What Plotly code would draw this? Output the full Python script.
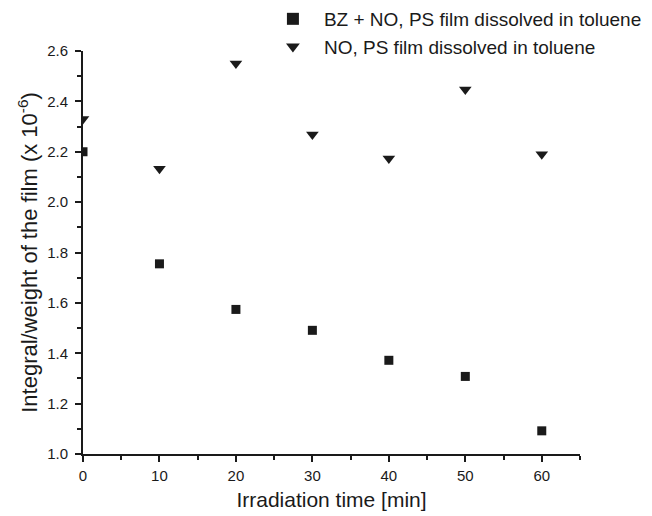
import plotly.graph_objects as go

# Irradiation time in minutes
time_min = [0, 10, 20, 30, 40, 50, 60]

# Integral / weight of the film (x 10^-6)
bz_no = [2.20, 1.755, 1.574, 1.491, 1.372, 1.308, 1.092]
no_only = [2.33, 2.133, 2.55, 2.268, 2.173, 2.447, 2.19]

series_names = [
    "BZ + NO, PS film dissolved in toluene",
    "NO, PS film dissolved in toluene",
]

font_family = "Liberation Sans, Arial, sans-serif"
ink = "#1a1a1a"

fig = go.Figure()
fig.add_trace(go.Scatter(
    x=time_min, y=bz_no, mode="markers", name=series_names[0],
    marker=dict(symbol="square", size=9, color=ink),
))
fig.add_trace(go.Scatter(
    x=time_min, y=no_only, mode="markers", name=series_names[1],
    marker=dict(symbol="triangle-down", size=11, color=ink),
))

axis_common = dict(
    showgrid=False, zeroline=False, showline=True, linecolor=ink, linewidth=2,
    ticks="outside", ticklen=6, tickwidth=1.5, tickcolor=ink,
    tickfont=dict(family=font_family, size=15, color=ink),
)

fig.update_xaxes(
    range=[0, 65], tick0=0, dtick=10, ticklabelstandoff=1,
    minor=dict(ticks="outside", ticklen=4, tickwidth=1.5, tickcolor=ink, dtick=5, tick0=0),
    title=dict(text="Irradiation time [min]", font=dict(family=font_family, size=21, color=ink), standoff=9),
    **axis_common,
)
fig.update_yaxes(
    range=[1.0, 2.6], tick0=1.0, dtick=0.2, tickformat=".1f", ticklabelstandoff=4,
    minor=dict(ticks="outside", ticklen=4, tickwidth=1.5, tickcolor=ink, dtick=0.1, tick0=1.0),
    title=dict(text="Integral/weight of the film (x 10<sup>-6</sup>)",
               font=dict(family=font_family, size=22, color=ink), standoff=3),
    **axis_common,
)

fig.update_layout(
    width=652, height=516,
    margin=dict(l=83, r=72, t=51, b=62, autoexpand=False),
    plot_bgcolor="white", paper_bgcolor="white",
    font=dict(family=font_family, color=ink),
    showlegend=True,
    legend=dict(
        x=0.360, y=1.1266, xanchor="left", yanchor="top",
        bgcolor="rgba(0,0,0,0)", font=dict(family=font_family, size=19, color=ink),
        tracegroupgap=0, itemsizing="constant", itemwidth=52,
    ),
)

fig.write_html("out.html")
